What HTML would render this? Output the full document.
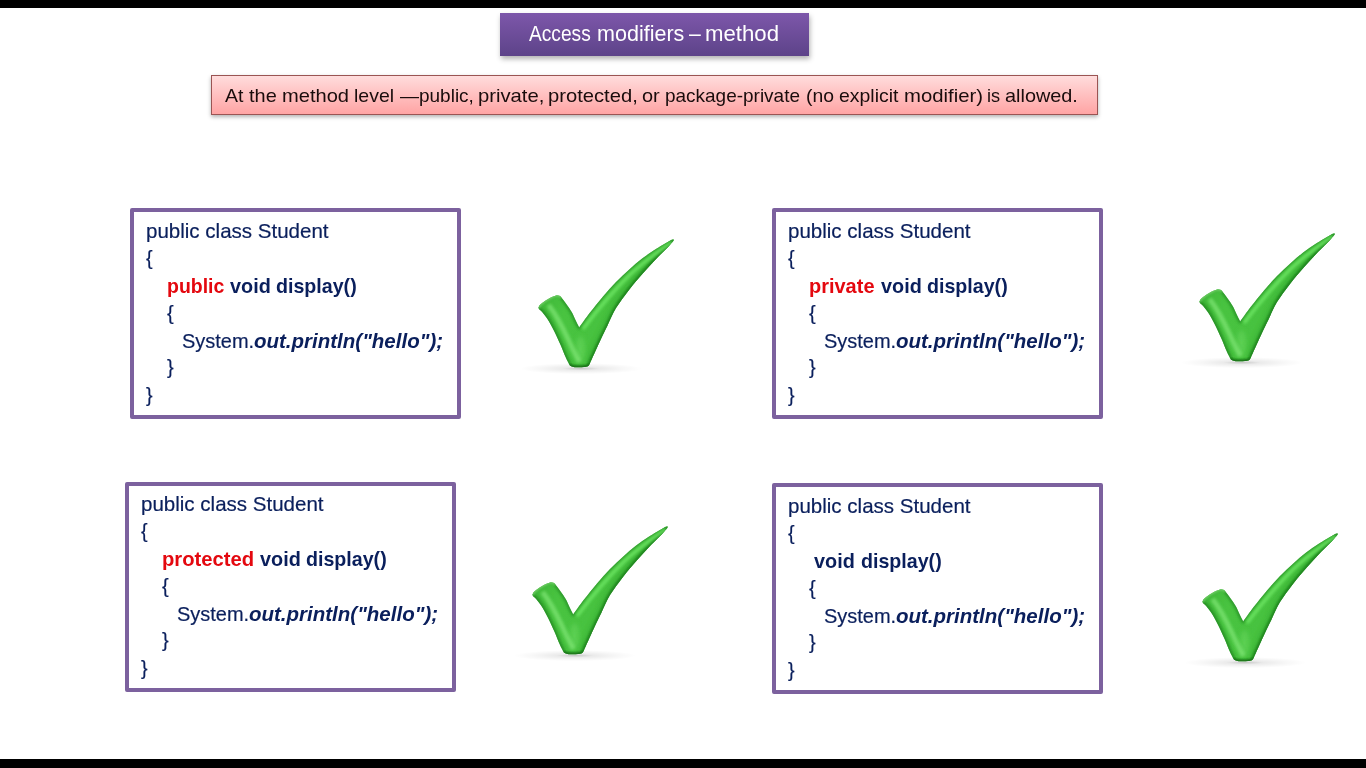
<!DOCTYPE html>
<html lang="en">
<head>
<meta charset="utf-8">
<title>Access modifiers – method</title>
<style>
html,body{margin:0;padding:0;}
body{width:1366px;height:768px;overflow:hidden;background:#fff;position:relative;font-family:"Liberation Sans",sans-serif;}
.bar{position:absolute;left:0;width:1366px;background:#000;}
.bar.top{top:0;height:8px;}
.bar.bot{top:759px;height:9px;}
.title{position:absolute;left:500px;top:13px;width:309px;height:43px;background:linear-gradient(#7d57aa,#5d4389);box-shadow:1px 3px 5px rgba(0,0,0,.3);color:#fff;}
.title span{position:absolute;transform-origin:0 0;top:8px;font-size:21.5px;line-height:26px;white-space:nowrap;}
.note{position:absolute;left:211px;top:75px;width:885px;height:38px;border:1px solid #9a5453;background:linear-gradient(#ffdcdc,#ffa4a4);box-shadow:0 2px 4px rgba(0,0,0,.3);color:#1a0c0c;}
.note span{position:absolute;transform-origin:0 0;top:8px;font-size:19px;line-height:24px;white-space:nowrap;}
.code{position:absolute;width:323px;height:203px;border:4px solid #7c619e;border-radius:2px;background:#fff;color:#0a1f5c;font-size:21px;-webkit-text-stroke:0.2px #0a1f5c;}
.code span{position:absolute;transform-origin:0 0;white-space:nowrap;line-height:24px;height:24px;}
.code .b{font-weight:bold;-webkit-text-stroke:0;}
.code .r{color:#e4080f;}
.code .bi{font-style:italic;font-weight:bold;-webkit-text-stroke:0;}
.chk{position:absolute;}
</style>
</head>
<body>
<div class="bar top"></div>
<div class="bar bot"></div>
<div class="title"><span id="t0" style="left:29.40px;transform:scaleX(0.8914)">Access </span><span id="t1" style="left:96.70px;transform:scaleX(1.0016)">modifiers </span><span id="t2" style="left:189.40px;transform:scaleX(0.9833)">– </span><span id="t3" style="left:205.45px;transform:scaleX(1.0326)">method</span></div>
<div class="note"><span id="n0" style="left:13.40px;transform:scaleX(1.0239)">At </span><span id="n1" style="left:37.19px;transform:scaleX(1.0493)">the </span><span id="n2" style="left:69.83px;transform:scaleX(1.0573)">method </span><span id="n3" style="left:142.27px;transform:scaleX(1.0258)">level </span><span id="n4" style="left:187.80px;transform:scaleX(0.9994)">—public, </span><span id="n5" style="left:265.82px;transform:scaleX(1.0652)">private, </span><span id="n6" style="left:336.13px;transform:scaleX(1.0622)">protected, </span><span id="n7" style="left:430.16px;transform:scaleX(1.0522)">or </span><span id="n8" style="left:452.70px;transform:scaleX(0.9983)">package-private </span><span id="n9" style="left:594.18px;transform:scaleX(1.0198)">(no </span><span id="n10" style="left:626.98px;transform:scaleX(1.0228)">explicit </span><span id="n11" style="left:691.72px;transform:scaleX(1.0688)">modifier) </span><span id="n12" style="left:774.75px;transform:scaleX(0.9563)">is </span><span id="n13" style="left:793.16px;transform:scaleX(1.0456)">allowed.</span></div>
<div class="code" style="left:130px;top:208px;height:203px">
<span id="b0l1" style="left:12.33px;top:7px;transform:scaleX(0.9771)">public class Student</span>
<span id="b0o1" style="left:12.02px;top:34px;transform:scaleX(0.9375)">{</span>
<span id="b0m" class="b r" style="left:33.30px;top:62px;transform:scaleX(0.9266)">public </span>
<span id="b0v" class="b" style="left:95.90px;top:62px;transform:scaleX(0.9440)">void </span>
<span id="b0d" class="b" style="left:142.25px;top:62px;transform:scaleX(0.9343)">display()</span>
<span id="b0o2" style="left:32.91px;top:89px;transform:scaleX(0.9531)">{</span>
<span id="b0s" style="left:48.19px;top:117px;transform:scaleX(0.9513)">System.</span>
<span id="b0p" class="bi" style="left:120.21px;top:117px;transform:scaleX(0.9760)">out.println(&quot;hello&quot;);</span>
<span id="b0c2" style="left:33.21px;top:143px;transform:scaleX(0.9531)">}</span>
<span id="b0c1" style="left:12.22px;top:171px;transform:scaleX(0.9375)">}</span>
</div>
<div class="code" style="left:772px;top:208px;height:203px">
<span id="b1l1" style="left:12.33px;top:7px;transform:scaleX(0.9771)">public class Student</span>
<span id="b1o1" style="left:12.02px;top:34px;transform:scaleX(0.9375)">{</span>
<span id="b1m" class="b r" style="left:33.46px;top:62px;transform:scaleX(0.9509)">private </span>
<span id="b1v" class="b" style="left:104.70px;top:62px;transform:scaleX(0.9440)">void </span>
<span id="b1d" class="b" style="left:151.05px;top:62px;transform:scaleX(0.9343)">display()</span>
<span id="b1o2" style="left:32.91px;top:89px;transform:scaleX(0.9531)">{</span>
<span id="b1s" style="left:48.19px;top:117px;transform:scaleX(0.9513)">System.</span>
<span id="b1p" class="bi" style="left:120.21px;top:117px;transform:scaleX(0.9760)">out.println(&quot;hello&quot;);</span>
<span id="b1c2" style="left:33.21px;top:143px;transform:scaleX(0.9531)">}</span>
<span id="b1c1" style="left:12.22px;top:171px;transform:scaleX(0.9375)">}</span>
</div>
<div class="code" style="left:125px;top:482px;height:202px">
<span id="b2l1" style="left:12.33px;top:6px;transform:scaleX(0.9771)">public class Student</span>
<span id="b2o1" style="left:12.02px;top:33px;transform:scaleX(0.9375)">{</span>
<span id="b2m" class="b r" style="left:33.25px;top:61px;transform:scaleX(0.9629)">protected </span>
<span id="b2v" class="b" style="left:130.50px;top:61px;transform:scaleX(0.9440)">void </span>
<span id="b2d" class="b" style="left:176.85px;top:61px;transform:scaleX(0.9343)">display()</span>
<span id="b2o2" style="left:32.91px;top:88px;transform:scaleX(0.9531)">{</span>
<span id="b2s" style="left:48.19px;top:116px;transform:scaleX(0.9513)">System.</span>
<span id="b2p" class="bi" style="left:120.21px;top:116px;transform:scaleX(0.9760)">out.println(&quot;hello&quot;);</span>
<span id="b2c2" style="left:33.21px;top:142px;transform:scaleX(0.9531)">}</span>
<span id="b2c1" style="left:12.22px;top:170px;transform:scaleX(0.9375)">}</span>
</div>
<div class="code" style="left:772px;top:483px;height:203px">
<span id="b3l1" style="left:12.33px;top:7px;transform:scaleX(0.9771)">public class Student</span>
<span id="b3o1" style="left:12.02px;top:34px;transform:scaleX(0.9375)">{</span>
<span id="b3v" class="b" style="left:38.30px;top:62px;transform:scaleX(0.9440)">void </span>
<span id="b3d" class="b" style="left:84.65px;top:62px;transform:scaleX(0.9343)">display()</span>
<span id="b3o2" style="left:32.91px;top:89px;transform:scaleX(0.9531)">{</span>
<span id="b3s" style="left:48.19px;top:117px;transform:scaleX(0.9513)">System.</span>
<span id="b3p" class="bi" style="left:120.21px;top:117px;transform:scaleX(0.9760)">out.println(&quot;hello&quot;);</span>
<span id="b3c2" style="left:33.21px;top:143px;transform:scaleX(0.9531)">}</span>
<span id="b3c1" style="left:12.22px;top:171px;transform:scaleX(0.9375)">}</span>
</div>
<svg class="chk" style="left:520.0px;top:230.0px" width="170" height="150" viewBox="520 230 170 150">
<defs>
<radialGradient id="sh1" cx="0.5" cy="0.5" r="0.5"><stop offset="0" stop-color="#000" stop-opacity=".22"/><stop offset=".3" stop-color="#000" stop-opacity=".08"/><stop offset=".7" stop-color="#000" stop-opacity=".03"/><stop offset="1" stop-color="#000" stop-opacity="0"/></radialGradient>
<linearGradient id="g1" x1="540" y1="300" x2="640" y2="330" gradientUnits="userSpaceOnUse"><stop offset="0" stop-color="#3fb838"/><stop offset=".25" stop-color="#48c340"/><stop offset=".6" stop-color="#47c23f"/><stop offset="1" stop-color="#41bb3a"/></linearGradient>
<filter id="b1" x="-30%" y="-30%" width="160%" height="160%"><feGaussianBlur stdDeviation="1.5"/></filter>
<filter id="d1" x="-30%" y="-30%" width="160%" height="160%"><feGaussianBlur stdDeviation="0.8"/></filter>
<filter id="e1" x="-30%" y="-30%" width="160%" height="160%"><feGaussianBlur stdDeviation="2.4"/></filter>
<filter id="c1" x="-10%" y="-10%" width="120%" height="120%"><feGaussianBlur stdDeviation="0.45"/></filter>
<clipPath id="k1"><path d="M538.4 307.8 C538.7 307.3 539.1 305.8 540.0 304.8 C540.9 303.8 542.0 303.0 543.6 301.9 C545.2 300.8 547.7 299.0 549.8 297.9 C551.9 296.8 554.4 295.8 556.0 295.4 C557.6 295.0 558.5 295.4 559.4 295.7 C560.3 296.0 561.1 297.1 561.4 297.4 C562.3 298.6 564.9 301.9 566.6 304.4 C568.3 306.9 570.3 309.6 571.8 312.3 C573.3 315.0 574.5 318.1 575.7 320.6 C576.9 323.1 578.6 326.4 579.2 327.5 C581.0 325.0 586.0 317.8 590.0 312.6 C594.0 307.4 598.7 301.5 603.0 296.4 C607.3 291.3 611.7 286.6 616.0 282.1 C620.3 277.7 624.6 273.6 629.0 269.7 C633.4 265.8 637.8 262.0 642.1 258.6 C646.5 255.2 650.8 252.3 655.1 249.5 C659.4 246.7 665.2 243.4 668.1 241.7 C671.0 240.0 671.7 239.9 672.4 239.5 C672.6 239.5 673.8 239.3 673.9 239.6 C674.0 239.9 673.4 240.8 673.3 241.1 C672.4 242.1 671.1 243.8 668.1 246.9 C665.1 250.0 659.4 255.3 655.1 259.9 C650.8 264.4 646.5 269.2 642.1 274.2 C637.8 279.2 633.4 284.2 629.0 289.9 C624.6 295.5 619.6 302.2 616.0 308.1 C612.4 314.0 610.0 320.4 607.5 325.5 C605.0 330.6 603.3 334.1 601.2 338.5 C599.1 342.9 597.0 347.6 595.0 352.0 C593.0 356.4 590.3 362.5 589.4 364.6 C589.2 364.9 588.9 365.9 588.0 366.3 C587.1 366.7 585.5 366.9 584.0 367.1 C582.5 367.3 580.8 367.3 579.0 367.3 C577.2 367.3 574.9 367.2 573.5 367.0 C572.1 366.8 571.3 366.4 570.6 366.0 C569.9 365.6 569.5 364.7 569.3 364.4 C568.7 363.2 567.1 360.4 565.6 357.0 C564.1 353.6 562.2 348.7 560.3 344.3 C558.4 339.9 556.1 334.9 554.0 330.7 C551.9 326.5 549.8 322.5 547.8 319.4 C545.8 316.3 543.6 313.7 542.2 312.0 C540.8 310.3 539.8 310.0 539.2 309.3 C538.6 308.6 538.5 308.1 538.4 307.8 Z"/></clipPath>
</defs>
<ellipse cx="581" cy="368.6" rx="61" ry="5.6" fill="url(#sh1)"/>
<g filter="url(#c1)">
<path d="M538.4 307.8 C538.7 307.3 539.1 305.8 540.0 304.8 C540.9 303.8 542.0 303.0 543.6 301.9 C545.2 300.8 547.7 299.0 549.8 297.9 C551.9 296.8 554.4 295.8 556.0 295.4 C557.6 295.0 558.5 295.4 559.4 295.7 C560.3 296.0 561.1 297.1 561.4 297.4 C562.3 298.6 564.9 301.9 566.6 304.4 C568.3 306.9 570.3 309.6 571.8 312.3 C573.3 315.0 574.5 318.1 575.7 320.6 C576.9 323.1 578.6 326.4 579.2 327.5 C581.0 325.0 586.0 317.8 590.0 312.6 C594.0 307.4 598.7 301.5 603.0 296.4 C607.3 291.3 611.7 286.6 616.0 282.1 C620.3 277.7 624.6 273.6 629.0 269.7 C633.4 265.8 637.8 262.0 642.1 258.6 C646.5 255.2 650.8 252.3 655.1 249.5 C659.4 246.7 665.2 243.4 668.1 241.7 C671.0 240.0 671.7 239.9 672.4 239.5 C672.6 239.5 673.8 239.3 673.9 239.6 C674.0 239.9 673.4 240.8 673.3 241.1 C672.4 242.1 671.1 243.8 668.1 246.9 C665.1 250.0 659.4 255.3 655.1 259.9 C650.8 264.4 646.5 269.2 642.1 274.2 C637.8 279.2 633.4 284.2 629.0 289.9 C624.6 295.5 619.6 302.2 616.0 308.1 C612.4 314.0 610.0 320.4 607.5 325.5 C605.0 330.6 603.3 334.1 601.2 338.5 C599.1 342.9 597.0 347.6 595.0 352.0 C593.0 356.4 590.3 362.5 589.4 364.6 C589.2 364.9 588.9 365.9 588.0 366.3 C587.1 366.7 585.5 366.9 584.0 367.1 C582.5 367.3 580.8 367.3 579.0 367.3 C577.2 367.3 574.9 367.2 573.5 367.0 C572.1 366.8 571.3 366.4 570.6 366.0 C569.9 365.6 569.5 364.7 569.3 364.4 C568.7 363.2 567.1 360.4 565.6 357.0 C564.1 353.6 562.2 348.7 560.3 344.3 C558.4 339.9 556.1 334.9 554.0 330.7 C551.9 326.5 549.8 322.5 547.8 319.4 C545.8 316.3 543.6 313.7 542.2 312.0 C540.8 310.3 539.8 310.0 539.2 309.3 C538.6 308.6 538.5 308.1 538.4 307.8 Z" fill="url(#g1)"/>
<g clip-path="url(#k1)">
<path d="M538.4 307.8 C538.7 307.3 539.1 305.8 540.0 304.8 C540.9 303.8 542.0 303.0 543.6 301.9 C545.2 300.8 547.7 299.0 549.8 297.9 C551.9 296.8 554.4 295.8 556.0 295.4 C557.6 295.0 558.5 295.4 559.4 295.7 C560.3 296.0 561.1 297.1 561.4 297.4 C562.3 298.6 564.9 301.9 566.6 304.4 C568.3 306.9 570.3 309.6 571.8 312.3 C573.3 315.0 574.5 318.1 575.7 320.6 C576.9 323.1 578.6 326.4 579.2 327.5 C581.0 325.0 586.0 317.8 590.0 312.6 C594.0 307.4 598.7 301.5 603.0 296.4 C607.3 291.3 611.7 286.6 616.0 282.1 C620.3 277.7 624.6 273.6 629.0 269.7 C633.4 265.8 637.8 262.0 642.1 258.6 C646.5 255.2 650.8 252.3 655.1 249.5 C659.4 246.7 665.2 243.4 668.1 241.7 C671.0 240.0 671.7 239.9 672.4 239.5 C672.6 239.5 673.8 239.3 673.9 239.6 C674.0 239.9 673.4 240.8 673.3 241.1 C672.4 242.1 671.1 243.8 668.1 246.9 C665.1 250.0 659.4 255.3 655.1 259.9 C650.8 264.4 646.5 269.2 642.1 274.2 C637.8 279.2 633.4 284.2 629.0 289.9 C624.6 295.5 619.6 302.2 616.0 308.1 C612.4 314.0 610.0 320.4 607.5 325.5 C605.0 330.6 603.3 334.1 601.2 338.5 C599.1 342.9 597.0 347.6 595.0 352.0 C593.0 356.4 590.3 362.5 589.4 364.6 C589.2 364.9 588.9 365.9 588.0 366.3 C587.1 366.7 585.5 366.9 584.0 367.1 C582.5 367.3 580.8 367.3 579.0 367.3 C577.2 367.3 574.9 367.2 573.5 367.0 C572.1 366.8 571.3 366.4 570.6 366.0 C569.9 365.6 569.5 364.7 569.3 364.4 C568.7 363.2 567.1 360.4 565.6 357.0 C564.1 353.6 562.2 348.7 560.3 344.3 C558.4 339.9 556.1 334.9 554.0 330.7 C551.9 326.5 549.8 322.5 547.8 319.4 C545.8 316.3 543.6 313.7 542.2 312.0 C540.8 310.3 539.8 310.0 539.2 309.3 C538.6 308.6 538.5 308.1 538.4 307.8 Z" fill="none" stroke="#1f7d1f" stroke-width="2.6" opacity=".6" filter="url(#d1)"/>
<path d="M673.3 241.1 C672.4 242.1 671.1 243.8 668.1 246.9 C665.1 250.0 659.4 255.3 655.1 259.9 C650.8 264.4 646.5 269.2 642.1 274.2 C637.8 279.2 633.4 284.2 629.0 289.9 C624.6 295.5 619.6 302.2 616.0 308.1 C612.4 314.0 610.0 320.4 607.5 325.5 C605.0 330.6 603.3 334.1 601.2 338.5 C599.1 342.9 597.0 347.6 595.0 352.0 C593.0 356.4 590.3 362.5 589.4 364.6" fill="none" stroke="#1c7a1c" stroke-width="3.4" opacity=".8" filter="url(#d1)"/>
<path d="M673.3 241.1 C672.4 242.1 671.1 243.8 668.1 246.9 C665.1 250.0 659.4 255.3 655.1 259.9 C650.8 264.4 646.5 269.2 642.1 274.2 C637.8 279.2 633.4 284.2 629.0 289.9 C624.6 295.5 619.6 302.2 616.0 308.1 C612.4 314.0 610.0 320.4 607.5 325.5 C605.0 330.6 603.3 334.1 601.2 338.5 C599.1 342.9 597.0 347.6 595.0 352.0 C593.0 356.4 590.3 362.5 589.4 364.6" fill="none" stroke="#248f22" stroke-width="8" opacity=".3" filter="url(#e1)"/>
<path d="M589.4 364.6 C589.2 364.9 588.9 365.9 588.0 366.3 C587.1 366.7 585.5 366.9 584.0 367.1 C582.5 367.3 580.8 367.3 579.0 367.3 C577.2 367.3 574.9 367.2 573.5 367.0 C572.1 366.8 571.3 366.4 570.6 366.0 C569.9 365.6 569.5 364.7 569.3 364.4" fill="none" stroke="#176a17" stroke-width="3.6" opacity=".9" filter="url(#d1)"/>
<path d="M569.3 364.4 C568.7 363.2 567.1 360.4 565.6 357.0 C564.1 353.6 562.2 348.7 560.3 344.3 C558.4 339.9 556.1 334.9 554.0 330.7 C551.9 326.5 549.8 322.5 547.8 319.4 C545.8 316.3 543.6 313.7 542.2 312.0 C540.8 310.3 539.8 310.0 539.2 309.3 C538.6 308.6 538.5 308.1 538.4 307.8" fill="none" stroke="#228a20" stroke-width="5" opacity=".55" filter="url(#b1)"/>
<path d="M561.4 297.4 C562.3 298.6 564.9 301.9 566.6 304.4 C568.3 306.9 570.3 309.6 571.8 312.3 C573.3 315.0 574.5 318.1 575.7 320.6 C576.9 323.1 578.6 326.4 579.2 327.5" fill="none" stroke="#2a962a" stroke-width="4" opacity=".45" filter="url(#b1)"/>
<ellipse cx="580.5" cy="349" rx="4.5" ry="13" fill="#63d45a" opacity=".75" filter="url(#e1)"/>
<path d="M548.5 305 C555 313 562 326 568.5 340 C572.5 349 576 356 579.5 362" fill="none" stroke="#7fe574" stroke-width="5" opacity=".75" filter="url(#b1)"/>
<path d="M583 329 C595 313 611 293 631 273.5 C646 260 660 250 672 242" fill="none" stroke="#6fe866" stroke-width="3.6" opacity=".85" filter="url(#b1)"/>
<path d="M538.4 307.8 C538.7 307.3 539.1 305.8 540.0 304.8 C540.9 303.8 542.0 303.0 543.6 301.9 C545.2 300.8 547.7 299.0 549.8 297.9 C551.9 296.8 554.4 295.8 556.0 295.4 C557.6 295.0 558.5 295.4 559.4 295.7 C560.3 296.0 561.1 297.1 561.4 297.4" fill="none" stroke="#8fea82" stroke-width="3" opacity=".7" filter="url(#d1)"/>
</g>
</g>
</svg>
<svg class="chk" style="left:1181.2px;top:224.4px" width="170" height="150" viewBox="520 230 170 150">
<defs>
<radialGradient id="sh2" cx="0.5" cy="0.5" r="0.5"><stop offset="0" stop-color="#000" stop-opacity=".22"/><stop offset=".3" stop-color="#000" stop-opacity=".08"/><stop offset=".7" stop-color="#000" stop-opacity=".03"/><stop offset="1" stop-color="#000" stop-opacity="0"/></radialGradient>
<linearGradient id="g2" x1="540" y1="300" x2="640" y2="330" gradientUnits="userSpaceOnUse"><stop offset="0" stop-color="#3fb838"/><stop offset=".25" stop-color="#48c340"/><stop offset=".6" stop-color="#47c23f"/><stop offset="1" stop-color="#41bb3a"/></linearGradient>
<filter id="b2" x="-30%" y="-30%" width="160%" height="160%"><feGaussianBlur stdDeviation="1.5"/></filter>
<filter id="d2" x="-30%" y="-30%" width="160%" height="160%"><feGaussianBlur stdDeviation="0.8"/></filter>
<filter id="e2" x="-30%" y="-30%" width="160%" height="160%"><feGaussianBlur stdDeviation="2.4"/></filter>
<filter id="c2" x="-10%" y="-10%" width="120%" height="120%"><feGaussianBlur stdDeviation="0.45"/></filter>
<clipPath id="k2"><path d="M538.4 307.8 C538.7 307.3 539.1 305.8 540.0 304.8 C540.9 303.8 542.0 303.0 543.6 301.9 C545.2 300.8 547.7 299.0 549.8 297.9 C551.9 296.8 554.4 295.8 556.0 295.4 C557.6 295.0 558.5 295.4 559.4 295.7 C560.3 296.0 561.1 297.1 561.4 297.4 C562.3 298.6 564.9 301.9 566.6 304.4 C568.3 306.9 570.3 309.6 571.8 312.3 C573.3 315.0 574.5 318.1 575.7 320.6 C576.9 323.1 578.6 326.4 579.2 327.5 C581.0 325.0 586.0 317.8 590.0 312.6 C594.0 307.4 598.7 301.5 603.0 296.4 C607.3 291.3 611.7 286.6 616.0 282.1 C620.3 277.7 624.6 273.6 629.0 269.7 C633.4 265.8 637.8 262.0 642.1 258.6 C646.5 255.2 650.8 252.3 655.1 249.5 C659.4 246.7 665.2 243.4 668.1 241.7 C671.0 240.0 671.7 239.9 672.4 239.5 C672.6 239.5 673.8 239.3 673.9 239.6 C674.0 239.9 673.4 240.8 673.3 241.1 C672.4 242.1 671.1 243.8 668.1 246.9 C665.1 250.0 659.4 255.3 655.1 259.9 C650.8 264.4 646.5 269.2 642.1 274.2 C637.8 279.2 633.4 284.2 629.0 289.9 C624.6 295.5 619.6 302.2 616.0 308.1 C612.4 314.0 610.0 320.4 607.5 325.5 C605.0 330.6 603.3 334.1 601.2 338.5 C599.1 342.9 597.0 347.6 595.0 352.0 C593.0 356.4 590.3 362.5 589.4 364.6 C589.2 364.9 588.9 365.9 588.0 366.3 C587.1 366.7 585.5 366.9 584.0 367.1 C582.5 367.3 580.8 367.3 579.0 367.3 C577.2 367.3 574.9 367.2 573.5 367.0 C572.1 366.8 571.3 366.4 570.6 366.0 C569.9 365.6 569.5 364.7 569.3 364.4 C568.7 363.2 567.1 360.4 565.6 357.0 C564.1 353.6 562.2 348.7 560.3 344.3 C558.4 339.9 556.1 334.9 554.0 330.7 C551.9 326.5 549.8 322.5 547.8 319.4 C545.8 316.3 543.6 313.7 542.2 312.0 C540.8 310.3 539.8 310.0 539.2 309.3 C538.6 308.6 538.5 308.1 538.4 307.8 Z"/></clipPath>
</defs>
<ellipse cx="581" cy="368.6" rx="61" ry="5.6" fill="url(#sh2)"/>
<g filter="url(#c2)">
<path d="M538.4 307.8 C538.7 307.3 539.1 305.8 540.0 304.8 C540.9 303.8 542.0 303.0 543.6 301.9 C545.2 300.8 547.7 299.0 549.8 297.9 C551.9 296.8 554.4 295.8 556.0 295.4 C557.6 295.0 558.5 295.4 559.4 295.7 C560.3 296.0 561.1 297.1 561.4 297.4 C562.3 298.6 564.9 301.9 566.6 304.4 C568.3 306.9 570.3 309.6 571.8 312.3 C573.3 315.0 574.5 318.1 575.7 320.6 C576.9 323.1 578.6 326.4 579.2 327.5 C581.0 325.0 586.0 317.8 590.0 312.6 C594.0 307.4 598.7 301.5 603.0 296.4 C607.3 291.3 611.7 286.6 616.0 282.1 C620.3 277.7 624.6 273.6 629.0 269.7 C633.4 265.8 637.8 262.0 642.1 258.6 C646.5 255.2 650.8 252.3 655.1 249.5 C659.4 246.7 665.2 243.4 668.1 241.7 C671.0 240.0 671.7 239.9 672.4 239.5 C672.6 239.5 673.8 239.3 673.9 239.6 C674.0 239.9 673.4 240.8 673.3 241.1 C672.4 242.1 671.1 243.8 668.1 246.9 C665.1 250.0 659.4 255.3 655.1 259.9 C650.8 264.4 646.5 269.2 642.1 274.2 C637.8 279.2 633.4 284.2 629.0 289.9 C624.6 295.5 619.6 302.2 616.0 308.1 C612.4 314.0 610.0 320.4 607.5 325.5 C605.0 330.6 603.3 334.1 601.2 338.5 C599.1 342.9 597.0 347.6 595.0 352.0 C593.0 356.4 590.3 362.5 589.4 364.6 C589.2 364.9 588.9 365.9 588.0 366.3 C587.1 366.7 585.5 366.9 584.0 367.1 C582.5 367.3 580.8 367.3 579.0 367.3 C577.2 367.3 574.9 367.2 573.5 367.0 C572.1 366.8 571.3 366.4 570.6 366.0 C569.9 365.6 569.5 364.7 569.3 364.4 C568.7 363.2 567.1 360.4 565.6 357.0 C564.1 353.6 562.2 348.7 560.3 344.3 C558.4 339.9 556.1 334.9 554.0 330.7 C551.9 326.5 549.8 322.5 547.8 319.4 C545.8 316.3 543.6 313.7 542.2 312.0 C540.8 310.3 539.8 310.0 539.2 309.3 C538.6 308.6 538.5 308.1 538.4 307.8 Z" fill="url(#g2)"/>
<g clip-path="url(#k2)">
<path d="M538.4 307.8 C538.7 307.3 539.1 305.8 540.0 304.8 C540.9 303.8 542.0 303.0 543.6 301.9 C545.2 300.8 547.7 299.0 549.8 297.9 C551.9 296.8 554.4 295.8 556.0 295.4 C557.6 295.0 558.5 295.4 559.4 295.7 C560.3 296.0 561.1 297.1 561.4 297.4 C562.3 298.6 564.9 301.9 566.6 304.4 C568.3 306.9 570.3 309.6 571.8 312.3 C573.3 315.0 574.5 318.1 575.7 320.6 C576.9 323.1 578.6 326.4 579.2 327.5 C581.0 325.0 586.0 317.8 590.0 312.6 C594.0 307.4 598.7 301.5 603.0 296.4 C607.3 291.3 611.7 286.6 616.0 282.1 C620.3 277.7 624.6 273.6 629.0 269.7 C633.4 265.8 637.8 262.0 642.1 258.6 C646.5 255.2 650.8 252.3 655.1 249.5 C659.4 246.7 665.2 243.4 668.1 241.7 C671.0 240.0 671.7 239.9 672.4 239.5 C672.6 239.5 673.8 239.3 673.9 239.6 C674.0 239.9 673.4 240.8 673.3 241.1 C672.4 242.1 671.1 243.8 668.1 246.9 C665.1 250.0 659.4 255.3 655.1 259.9 C650.8 264.4 646.5 269.2 642.1 274.2 C637.8 279.2 633.4 284.2 629.0 289.9 C624.6 295.5 619.6 302.2 616.0 308.1 C612.4 314.0 610.0 320.4 607.5 325.5 C605.0 330.6 603.3 334.1 601.2 338.5 C599.1 342.9 597.0 347.6 595.0 352.0 C593.0 356.4 590.3 362.5 589.4 364.6 C589.2 364.9 588.9 365.9 588.0 366.3 C587.1 366.7 585.5 366.9 584.0 367.1 C582.5 367.3 580.8 367.3 579.0 367.3 C577.2 367.3 574.9 367.2 573.5 367.0 C572.1 366.8 571.3 366.4 570.6 366.0 C569.9 365.6 569.5 364.7 569.3 364.4 C568.7 363.2 567.1 360.4 565.6 357.0 C564.1 353.6 562.2 348.7 560.3 344.3 C558.4 339.9 556.1 334.9 554.0 330.7 C551.9 326.5 549.8 322.5 547.8 319.4 C545.8 316.3 543.6 313.7 542.2 312.0 C540.8 310.3 539.8 310.0 539.2 309.3 C538.6 308.6 538.5 308.1 538.4 307.8 Z" fill="none" stroke="#1f7d1f" stroke-width="2.6" opacity=".6" filter="url(#d2)"/>
<path d="M673.3 241.1 C672.4 242.1 671.1 243.8 668.1 246.9 C665.1 250.0 659.4 255.3 655.1 259.9 C650.8 264.4 646.5 269.2 642.1 274.2 C637.8 279.2 633.4 284.2 629.0 289.9 C624.6 295.5 619.6 302.2 616.0 308.1 C612.4 314.0 610.0 320.4 607.5 325.5 C605.0 330.6 603.3 334.1 601.2 338.5 C599.1 342.9 597.0 347.6 595.0 352.0 C593.0 356.4 590.3 362.5 589.4 364.6" fill="none" stroke="#1c7a1c" stroke-width="3.4" opacity=".8" filter="url(#d2)"/>
<path d="M673.3 241.1 C672.4 242.1 671.1 243.8 668.1 246.9 C665.1 250.0 659.4 255.3 655.1 259.9 C650.8 264.4 646.5 269.2 642.1 274.2 C637.8 279.2 633.4 284.2 629.0 289.9 C624.6 295.5 619.6 302.2 616.0 308.1 C612.4 314.0 610.0 320.4 607.5 325.5 C605.0 330.6 603.3 334.1 601.2 338.5 C599.1 342.9 597.0 347.6 595.0 352.0 C593.0 356.4 590.3 362.5 589.4 364.6" fill="none" stroke="#248f22" stroke-width="8" opacity=".3" filter="url(#e2)"/>
<path d="M589.4 364.6 C589.2 364.9 588.9 365.9 588.0 366.3 C587.1 366.7 585.5 366.9 584.0 367.1 C582.5 367.3 580.8 367.3 579.0 367.3 C577.2 367.3 574.9 367.2 573.5 367.0 C572.1 366.8 571.3 366.4 570.6 366.0 C569.9 365.6 569.5 364.7 569.3 364.4" fill="none" stroke="#176a17" stroke-width="3.6" opacity=".9" filter="url(#d2)"/>
<path d="M569.3 364.4 C568.7 363.2 567.1 360.4 565.6 357.0 C564.1 353.6 562.2 348.7 560.3 344.3 C558.4 339.9 556.1 334.9 554.0 330.7 C551.9 326.5 549.8 322.5 547.8 319.4 C545.8 316.3 543.6 313.7 542.2 312.0 C540.8 310.3 539.8 310.0 539.2 309.3 C538.6 308.6 538.5 308.1 538.4 307.8" fill="none" stroke="#228a20" stroke-width="5" opacity=".55" filter="url(#b2)"/>
<path d="M561.4 297.4 C562.3 298.6 564.9 301.9 566.6 304.4 C568.3 306.9 570.3 309.6 571.8 312.3 C573.3 315.0 574.5 318.1 575.7 320.6 C576.9 323.1 578.6 326.4 579.2 327.5" fill="none" stroke="#2a962a" stroke-width="4" opacity=".45" filter="url(#b2)"/>
<ellipse cx="580.5" cy="349" rx="4.5" ry="13" fill="#63d45a" opacity=".75" filter="url(#e2)"/>
<path d="M548.5 305 C555 313 562 326 568.5 340 C572.5 349 576 356 579.5 362" fill="none" stroke="#7fe574" stroke-width="5" opacity=".75" filter="url(#b2)"/>
<path d="M583 329 C595 313 611 293 631 273.5 C646 260 660 250 672 242" fill="none" stroke="#6fe866" stroke-width="3.6" opacity=".85" filter="url(#b2)"/>
<path d="M538.4 307.8 C538.7 307.3 539.1 305.8 540.0 304.8 C540.9 303.8 542.0 303.0 543.6 301.9 C545.2 300.8 547.7 299.0 549.8 297.9 C551.9 296.8 554.4 295.8 556.0 295.4 C557.6 295.0 558.5 295.4 559.4 295.7 C560.3 296.0 561.1 297.1 561.4 297.4" fill="none" stroke="#8fea82" stroke-width="3" opacity=".7" filter="url(#d2)"/>
</g>
</g>
</svg>
<svg class="chk" style="left:514.3px;top:516.5px" width="170" height="150" viewBox="520 230 170 150">
<defs>
<radialGradient id="sh3" cx="0.5" cy="0.5" r="0.5"><stop offset="0" stop-color="#000" stop-opacity=".22"/><stop offset=".3" stop-color="#000" stop-opacity=".08"/><stop offset=".7" stop-color="#000" stop-opacity=".03"/><stop offset="1" stop-color="#000" stop-opacity="0"/></radialGradient>
<linearGradient id="g3" x1="540" y1="300" x2="640" y2="330" gradientUnits="userSpaceOnUse"><stop offset="0" stop-color="#3fb838"/><stop offset=".25" stop-color="#48c340"/><stop offset=".6" stop-color="#47c23f"/><stop offset="1" stop-color="#41bb3a"/></linearGradient>
<filter id="b3" x="-30%" y="-30%" width="160%" height="160%"><feGaussianBlur stdDeviation="1.5"/></filter>
<filter id="d3" x="-30%" y="-30%" width="160%" height="160%"><feGaussianBlur stdDeviation="0.8"/></filter>
<filter id="e3" x="-30%" y="-30%" width="160%" height="160%"><feGaussianBlur stdDeviation="2.4"/></filter>
<filter id="c3" x="-10%" y="-10%" width="120%" height="120%"><feGaussianBlur stdDeviation="0.45"/></filter>
<clipPath id="k3"><path d="M538.4 307.8 C538.7 307.3 539.1 305.8 540.0 304.8 C540.9 303.8 542.0 303.0 543.6 301.9 C545.2 300.8 547.7 299.0 549.8 297.9 C551.9 296.8 554.4 295.8 556.0 295.4 C557.6 295.0 558.5 295.4 559.4 295.7 C560.3 296.0 561.1 297.1 561.4 297.4 C562.3 298.6 564.9 301.9 566.6 304.4 C568.3 306.9 570.3 309.6 571.8 312.3 C573.3 315.0 574.5 318.1 575.7 320.6 C576.9 323.1 578.6 326.4 579.2 327.5 C581.0 325.0 586.0 317.8 590.0 312.6 C594.0 307.4 598.7 301.5 603.0 296.4 C607.3 291.3 611.7 286.6 616.0 282.1 C620.3 277.7 624.6 273.6 629.0 269.7 C633.4 265.8 637.8 262.0 642.1 258.6 C646.5 255.2 650.8 252.3 655.1 249.5 C659.4 246.7 665.2 243.4 668.1 241.7 C671.0 240.0 671.7 239.9 672.4 239.5 C672.6 239.5 673.8 239.3 673.9 239.6 C674.0 239.9 673.4 240.8 673.3 241.1 C672.4 242.1 671.1 243.8 668.1 246.9 C665.1 250.0 659.4 255.3 655.1 259.9 C650.8 264.4 646.5 269.2 642.1 274.2 C637.8 279.2 633.4 284.2 629.0 289.9 C624.6 295.5 619.6 302.2 616.0 308.1 C612.4 314.0 610.0 320.4 607.5 325.5 C605.0 330.6 603.3 334.1 601.2 338.5 C599.1 342.9 597.0 347.6 595.0 352.0 C593.0 356.4 590.3 362.5 589.4 364.6 C589.2 364.9 588.9 365.9 588.0 366.3 C587.1 366.7 585.5 366.9 584.0 367.1 C582.5 367.3 580.8 367.3 579.0 367.3 C577.2 367.3 574.9 367.2 573.5 367.0 C572.1 366.8 571.3 366.4 570.6 366.0 C569.9 365.6 569.5 364.7 569.3 364.4 C568.7 363.2 567.1 360.4 565.6 357.0 C564.1 353.6 562.2 348.7 560.3 344.3 C558.4 339.9 556.1 334.9 554.0 330.7 C551.9 326.5 549.8 322.5 547.8 319.4 C545.8 316.3 543.6 313.7 542.2 312.0 C540.8 310.3 539.8 310.0 539.2 309.3 C538.6 308.6 538.5 308.1 538.4 307.8 Z"/></clipPath>
</defs>
<ellipse cx="581" cy="368.6" rx="61" ry="5.6" fill="url(#sh3)"/>
<g filter="url(#c3)">
<path d="M538.4 307.8 C538.7 307.3 539.1 305.8 540.0 304.8 C540.9 303.8 542.0 303.0 543.6 301.9 C545.2 300.8 547.7 299.0 549.8 297.9 C551.9 296.8 554.4 295.8 556.0 295.4 C557.6 295.0 558.5 295.4 559.4 295.7 C560.3 296.0 561.1 297.1 561.4 297.4 C562.3 298.6 564.9 301.9 566.6 304.4 C568.3 306.9 570.3 309.6 571.8 312.3 C573.3 315.0 574.5 318.1 575.7 320.6 C576.9 323.1 578.6 326.4 579.2 327.5 C581.0 325.0 586.0 317.8 590.0 312.6 C594.0 307.4 598.7 301.5 603.0 296.4 C607.3 291.3 611.7 286.6 616.0 282.1 C620.3 277.7 624.6 273.6 629.0 269.7 C633.4 265.8 637.8 262.0 642.1 258.6 C646.5 255.2 650.8 252.3 655.1 249.5 C659.4 246.7 665.2 243.4 668.1 241.7 C671.0 240.0 671.7 239.9 672.4 239.5 C672.6 239.5 673.8 239.3 673.9 239.6 C674.0 239.9 673.4 240.8 673.3 241.1 C672.4 242.1 671.1 243.8 668.1 246.9 C665.1 250.0 659.4 255.3 655.1 259.9 C650.8 264.4 646.5 269.2 642.1 274.2 C637.8 279.2 633.4 284.2 629.0 289.9 C624.6 295.5 619.6 302.2 616.0 308.1 C612.4 314.0 610.0 320.4 607.5 325.5 C605.0 330.6 603.3 334.1 601.2 338.5 C599.1 342.9 597.0 347.6 595.0 352.0 C593.0 356.4 590.3 362.5 589.4 364.6 C589.2 364.9 588.9 365.9 588.0 366.3 C587.1 366.7 585.5 366.9 584.0 367.1 C582.5 367.3 580.8 367.3 579.0 367.3 C577.2 367.3 574.9 367.2 573.5 367.0 C572.1 366.8 571.3 366.4 570.6 366.0 C569.9 365.6 569.5 364.7 569.3 364.4 C568.7 363.2 567.1 360.4 565.6 357.0 C564.1 353.6 562.2 348.7 560.3 344.3 C558.4 339.9 556.1 334.9 554.0 330.7 C551.9 326.5 549.8 322.5 547.8 319.4 C545.8 316.3 543.6 313.7 542.2 312.0 C540.8 310.3 539.8 310.0 539.2 309.3 C538.6 308.6 538.5 308.1 538.4 307.8 Z" fill="url(#g3)"/>
<g clip-path="url(#k3)">
<path d="M538.4 307.8 C538.7 307.3 539.1 305.8 540.0 304.8 C540.9 303.8 542.0 303.0 543.6 301.9 C545.2 300.8 547.7 299.0 549.8 297.9 C551.9 296.8 554.4 295.8 556.0 295.4 C557.6 295.0 558.5 295.4 559.4 295.7 C560.3 296.0 561.1 297.1 561.4 297.4 C562.3 298.6 564.9 301.9 566.6 304.4 C568.3 306.9 570.3 309.6 571.8 312.3 C573.3 315.0 574.5 318.1 575.7 320.6 C576.9 323.1 578.6 326.4 579.2 327.5 C581.0 325.0 586.0 317.8 590.0 312.6 C594.0 307.4 598.7 301.5 603.0 296.4 C607.3 291.3 611.7 286.6 616.0 282.1 C620.3 277.7 624.6 273.6 629.0 269.7 C633.4 265.8 637.8 262.0 642.1 258.6 C646.5 255.2 650.8 252.3 655.1 249.5 C659.4 246.7 665.2 243.4 668.1 241.7 C671.0 240.0 671.7 239.9 672.4 239.5 C672.6 239.5 673.8 239.3 673.9 239.6 C674.0 239.9 673.4 240.8 673.3 241.1 C672.4 242.1 671.1 243.8 668.1 246.9 C665.1 250.0 659.4 255.3 655.1 259.9 C650.8 264.4 646.5 269.2 642.1 274.2 C637.8 279.2 633.4 284.2 629.0 289.9 C624.6 295.5 619.6 302.2 616.0 308.1 C612.4 314.0 610.0 320.4 607.5 325.5 C605.0 330.6 603.3 334.1 601.2 338.5 C599.1 342.9 597.0 347.6 595.0 352.0 C593.0 356.4 590.3 362.5 589.4 364.6 C589.2 364.9 588.9 365.9 588.0 366.3 C587.1 366.7 585.5 366.9 584.0 367.1 C582.5 367.3 580.8 367.3 579.0 367.3 C577.2 367.3 574.9 367.2 573.5 367.0 C572.1 366.8 571.3 366.4 570.6 366.0 C569.9 365.6 569.5 364.7 569.3 364.4 C568.7 363.2 567.1 360.4 565.6 357.0 C564.1 353.6 562.2 348.7 560.3 344.3 C558.4 339.9 556.1 334.9 554.0 330.7 C551.9 326.5 549.8 322.5 547.8 319.4 C545.8 316.3 543.6 313.7 542.2 312.0 C540.8 310.3 539.8 310.0 539.2 309.3 C538.6 308.6 538.5 308.1 538.4 307.8 Z" fill="none" stroke="#1f7d1f" stroke-width="2.6" opacity=".6" filter="url(#d3)"/>
<path d="M673.3 241.1 C672.4 242.1 671.1 243.8 668.1 246.9 C665.1 250.0 659.4 255.3 655.1 259.9 C650.8 264.4 646.5 269.2 642.1 274.2 C637.8 279.2 633.4 284.2 629.0 289.9 C624.6 295.5 619.6 302.2 616.0 308.1 C612.4 314.0 610.0 320.4 607.5 325.5 C605.0 330.6 603.3 334.1 601.2 338.5 C599.1 342.9 597.0 347.6 595.0 352.0 C593.0 356.4 590.3 362.5 589.4 364.6" fill="none" stroke="#1c7a1c" stroke-width="3.4" opacity=".8" filter="url(#d3)"/>
<path d="M673.3 241.1 C672.4 242.1 671.1 243.8 668.1 246.9 C665.1 250.0 659.4 255.3 655.1 259.9 C650.8 264.4 646.5 269.2 642.1 274.2 C637.8 279.2 633.4 284.2 629.0 289.9 C624.6 295.5 619.6 302.2 616.0 308.1 C612.4 314.0 610.0 320.4 607.5 325.5 C605.0 330.6 603.3 334.1 601.2 338.5 C599.1 342.9 597.0 347.6 595.0 352.0 C593.0 356.4 590.3 362.5 589.4 364.6" fill="none" stroke="#248f22" stroke-width="8" opacity=".3" filter="url(#e3)"/>
<path d="M589.4 364.6 C589.2 364.9 588.9 365.9 588.0 366.3 C587.1 366.7 585.5 366.9 584.0 367.1 C582.5 367.3 580.8 367.3 579.0 367.3 C577.2 367.3 574.9 367.2 573.5 367.0 C572.1 366.8 571.3 366.4 570.6 366.0 C569.9 365.6 569.5 364.7 569.3 364.4" fill="none" stroke="#176a17" stroke-width="3.6" opacity=".9" filter="url(#d3)"/>
<path d="M569.3 364.4 C568.7 363.2 567.1 360.4 565.6 357.0 C564.1 353.6 562.2 348.7 560.3 344.3 C558.4 339.9 556.1 334.9 554.0 330.7 C551.9 326.5 549.8 322.5 547.8 319.4 C545.8 316.3 543.6 313.7 542.2 312.0 C540.8 310.3 539.8 310.0 539.2 309.3 C538.6 308.6 538.5 308.1 538.4 307.8" fill="none" stroke="#228a20" stroke-width="5" opacity=".55" filter="url(#b3)"/>
<path d="M561.4 297.4 C562.3 298.6 564.9 301.9 566.6 304.4 C568.3 306.9 570.3 309.6 571.8 312.3 C573.3 315.0 574.5 318.1 575.7 320.6 C576.9 323.1 578.6 326.4 579.2 327.5" fill="none" stroke="#2a962a" stroke-width="4" opacity=".45" filter="url(#b3)"/>
<ellipse cx="580.5" cy="349" rx="4.5" ry="13" fill="#63d45a" opacity=".75" filter="url(#e3)"/>
<path d="M548.5 305 C555 313 562 326 568.5 340 C572.5 349 576 356 579.5 362" fill="none" stroke="#7fe574" stroke-width="5" opacity=".75" filter="url(#b3)"/>
<path d="M583 329 C595 313 611 293 631 273.5 C646 260 660 250 672 242" fill="none" stroke="#6fe866" stroke-width="3.6" opacity=".85" filter="url(#b3)"/>
<path d="M538.4 307.8 C538.7 307.3 539.1 305.8 540.0 304.8 C540.9 303.8 542.0 303.0 543.6 301.9 C545.2 300.8 547.7 299.0 549.8 297.9 C551.9 296.8 554.4 295.8 556.0 295.4 C557.6 295.0 558.5 295.4 559.4 295.7 C560.3 296.0 561.1 297.1 561.4 297.4" fill="none" stroke="#8fea82" stroke-width="3" opacity=".7" filter="url(#d3)"/>
</g>
</g>
</svg>
<svg class="chk" style="left:1184.3px;top:523.7px" width="170" height="150" viewBox="520 230 170 150">
<defs>
<radialGradient id="sh4" cx="0.5" cy="0.5" r="0.5"><stop offset="0" stop-color="#000" stop-opacity=".22"/><stop offset=".3" stop-color="#000" stop-opacity=".08"/><stop offset=".7" stop-color="#000" stop-opacity=".03"/><stop offset="1" stop-color="#000" stop-opacity="0"/></radialGradient>
<linearGradient id="g4" x1="540" y1="300" x2="640" y2="330" gradientUnits="userSpaceOnUse"><stop offset="0" stop-color="#3fb838"/><stop offset=".25" stop-color="#48c340"/><stop offset=".6" stop-color="#47c23f"/><stop offset="1" stop-color="#41bb3a"/></linearGradient>
<filter id="b4" x="-30%" y="-30%" width="160%" height="160%"><feGaussianBlur stdDeviation="1.5"/></filter>
<filter id="d4" x="-30%" y="-30%" width="160%" height="160%"><feGaussianBlur stdDeviation="0.8"/></filter>
<filter id="e4" x="-30%" y="-30%" width="160%" height="160%"><feGaussianBlur stdDeviation="2.4"/></filter>
<filter id="c4" x="-10%" y="-10%" width="120%" height="120%"><feGaussianBlur stdDeviation="0.45"/></filter>
<clipPath id="k4"><path d="M538.4 307.8 C538.7 307.3 539.1 305.8 540.0 304.8 C540.9 303.8 542.0 303.0 543.6 301.9 C545.2 300.8 547.7 299.0 549.8 297.9 C551.9 296.8 554.4 295.8 556.0 295.4 C557.6 295.0 558.5 295.4 559.4 295.7 C560.3 296.0 561.1 297.1 561.4 297.4 C562.3 298.6 564.9 301.9 566.6 304.4 C568.3 306.9 570.3 309.6 571.8 312.3 C573.3 315.0 574.5 318.1 575.7 320.6 C576.9 323.1 578.6 326.4 579.2 327.5 C581.0 325.0 586.0 317.8 590.0 312.6 C594.0 307.4 598.7 301.5 603.0 296.4 C607.3 291.3 611.7 286.6 616.0 282.1 C620.3 277.7 624.6 273.6 629.0 269.7 C633.4 265.8 637.8 262.0 642.1 258.6 C646.5 255.2 650.8 252.3 655.1 249.5 C659.4 246.7 665.2 243.4 668.1 241.7 C671.0 240.0 671.7 239.9 672.4 239.5 C672.6 239.5 673.8 239.3 673.9 239.6 C674.0 239.9 673.4 240.8 673.3 241.1 C672.4 242.1 671.1 243.8 668.1 246.9 C665.1 250.0 659.4 255.3 655.1 259.9 C650.8 264.4 646.5 269.2 642.1 274.2 C637.8 279.2 633.4 284.2 629.0 289.9 C624.6 295.5 619.6 302.2 616.0 308.1 C612.4 314.0 610.0 320.4 607.5 325.5 C605.0 330.6 603.3 334.1 601.2 338.5 C599.1 342.9 597.0 347.6 595.0 352.0 C593.0 356.4 590.3 362.5 589.4 364.6 C589.2 364.9 588.9 365.9 588.0 366.3 C587.1 366.7 585.5 366.9 584.0 367.1 C582.5 367.3 580.8 367.3 579.0 367.3 C577.2 367.3 574.9 367.2 573.5 367.0 C572.1 366.8 571.3 366.4 570.6 366.0 C569.9 365.6 569.5 364.7 569.3 364.4 C568.7 363.2 567.1 360.4 565.6 357.0 C564.1 353.6 562.2 348.7 560.3 344.3 C558.4 339.9 556.1 334.9 554.0 330.7 C551.9 326.5 549.8 322.5 547.8 319.4 C545.8 316.3 543.6 313.7 542.2 312.0 C540.8 310.3 539.8 310.0 539.2 309.3 C538.6 308.6 538.5 308.1 538.4 307.8 Z"/></clipPath>
</defs>
<ellipse cx="581" cy="368.6" rx="61" ry="5.6" fill="url(#sh4)"/>
<g filter="url(#c4)">
<path d="M538.4 307.8 C538.7 307.3 539.1 305.8 540.0 304.8 C540.9 303.8 542.0 303.0 543.6 301.9 C545.2 300.8 547.7 299.0 549.8 297.9 C551.9 296.8 554.4 295.8 556.0 295.4 C557.6 295.0 558.5 295.4 559.4 295.7 C560.3 296.0 561.1 297.1 561.4 297.4 C562.3 298.6 564.9 301.9 566.6 304.4 C568.3 306.9 570.3 309.6 571.8 312.3 C573.3 315.0 574.5 318.1 575.7 320.6 C576.9 323.1 578.6 326.4 579.2 327.5 C581.0 325.0 586.0 317.8 590.0 312.6 C594.0 307.4 598.7 301.5 603.0 296.4 C607.3 291.3 611.7 286.6 616.0 282.1 C620.3 277.7 624.6 273.6 629.0 269.7 C633.4 265.8 637.8 262.0 642.1 258.6 C646.5 255.2 650.8 252.3 655.1 249.5 C659.4 246.7 665.2 243.4 668.1 241.7 C671.0 240.0 671.7 239.9 672.4 239.5 C672.6 239.5 673.8 239.3 673.9 239.6 C674.0 239.9 673.4 240.8 673.3 241.1 C672.4 242.1 671.1 243.8 668.1 246.9 C665.1 250.0 659.4 255.3 655.1 259.9 C650.8 264.4 646.5 269.2 642.1 274.2 C637.8 279.2 633.4 284.2 629.0 289.9 C624.6 295.5 619.6 302.2 616.0 308.1 C612.4 314.0 610.0 320.4 607.5 325.5 C605.0 330.6 603.3 334.1 601.2 338.5 C599.1 342.9 597.0 347.6 595.0 352.0 C593.0 356.4 590.3 362.5 589.4 364.6 C589.2 364.9 588.9 365.9 588.0 366.3 C587.1 366.7 585.5 366.9 584.0 367.1 C582.5 367.3 580.8 367.3 579.0 367.3 C577.2 367.3 574.9 367.2 573.5 367.0 C572.1 366.8 571.3 366.4 570.6 366.0 C569.9 365.6 569.5 364.7 569.3 364.4 C568.7 363.2 567.1 360.4 565.6 357.0 C564.1 353.6 562.2 348.7 560.3 344.3 C558.4 339.9 556.1 334.9 554.0 330.7 C551.9 326.5 549.8 322.5 547.8 319.4 C545.8 316.3 543.6 313.7 542.2 312.0 C540.8 310.3 539.8 310.0 539.2 309.3 C538.6 308.6 538.5 308.1 538.4 307.8 Z" fill="url(#g4)"/>
<g clip-path="url(#k4)">
<path d="M538.4 307.8 C538.7 307.3 539.1 305.8 540.0 304.8 C540.9 303.8 542.0 303.0 543.6 301.9 C545.2 300.8 547.7 299.0 549.8 297.9 C551.9 296.8 554.4 295.8 556.0 295.4 C557.6 295.0 558.5 295.4 559.4 295.7 C560.3 296.0 561.1 297.1 561.4 297.4 C562.3 298.6 564.9 301.9 566.6 304.4 C568.3 306.9 570.3 309.6 571.8 312.3 C573.3 315.0 574.5 318.1 575.7 320.6 C576.9 323.1 578.6 326.4 579.2 327.5 C581.0 325.0 586.0 317.8 590.0 312.6 C594.0 307.4 598.7 301.5 603.0 296.4 C607.3 291.3 611.7 286.6 616.0 282.1 C620.3 277.7 624.6 273.6 629.0 269.7 C633.4 265.8 637.8 262.0 642.1 258.6 C646.5 255.2 650.8 252.3 655.1 249.5 C659.4 246.7 665.2 243.4 668.1 241.7 C671.0 240.0 671.7 239.9 672.4 239.5 C672.6 239.5 673.8 239.3 673.9 239.6 C674.0 239.9 673.4 240.8 673.3 241.1 C672.4 242.1 671.1 243.8 668.1 246.9 C665.1 250.0 659.4 255.3 655.1 259.9 C650.8 264.4 646.5 269.2 642.1 274.2 C637.8 279.2 633.4 284.2 629.0 289.9 C624.6 295.5 619.6 302.2 616.0 308.1 C612.4 314.0 610.0 320.4 607.5 325.5 C605.0 330.6 603.3 334.1 601.2 338.5 C599.1 342.9 597.0 347.6 595.0 352.0 C593.0 356.4 590.3 362.5 589.4 364.6 C589.2 364.9 588.9 365.9 588.0 366.3 C587.1 366.7 585.5 366.9 584.0 367.1 C582.5 367.3 580.8 367.3 579.0 367.3 C577.2 367.3 574.9 367.2 573.5 367.0 C572.1 366.8 571.3 366.4 570.6 366.0 C569.9 365.6 569.5 364.7 569.3 364.4 C568.7 363.2 567.1 360.4 565.6 357.0 C564.1 353.6 562.2 348.7 560.3 344.3 C558.4 339.9 556.1 334.9 554.0 330.7 C551.9 326.5 549.8 322.5 547.8 319.4 C545.8 316.3 543.6 313.7 542.2 312.0 C540.8 310.3 539.8 310.0 539.2 309.3 C538.6 308.6 538.5 308.1 538.4 307.8 Z" fill="none" stroke="#1f7d1f" stroke-width="2.6" opacity=".6" filter="url(#d4)"/>
<path d="M673.3 241.1 C672.4 242.1 671.1 243.8 668.1 246.9 C665.1 250.0 659.4 255.3 655.1 259.9 C650.8 264.4 646.5 269.2 642.1 274.2 C637.8 279.2 633.4 284.2 629.0 289.9 C624.6 295.5 619.6 302.2 616.0 308.1 C612.4 314.0 610.0 320.4 607.5 325.5 C605.0 330.6 603.3 334.1 601.2 338.5 C599.1 342.9 597.0 347.6 595.0 352.0 C593.0 356.4 590.3 362.5 589.4 364.6" fill="none" stroke="#1c7a1c" stroke-width="3.4" opacity=".8" filter="url(#d4)"/>
<path d="M673.3 241.1 C672.4 242.1 671.1 243.8 668.1 246.9 C665.1 250.0 659.4 255.3 655.1 259.9 C650.8 264.4 646.5 269.2 642.1 274.2 C637.8 279.2 633.4 284.2 629.0 289.9 C624.6 295.5 619.6 302.2 616.0 308.1 C612.4 314.0 610.0 320.4 607.5 325.5 C605.0 330.6 603.3 334.1 601.2 338.5 C599.1 342.9 597.0 347.6 595.0 352.0 C593.0 356.4 590.3 362.5 589.4 364.6" fill="none" stroke="#248f22" stroke-width="8" opacity=".3" filter="url(#e4)"/>
<path d="M589.4 364.6 C589.2 364.9 588.9 365.9 588.0 366.3 C587.1 366.7 585.5 366.9 584.0 367.1 C582.5 367.3 580.8 367.3 579.0 367.3 C577.2 367.3 574.9 367.2 573.5 367.0 C572.1 366.8 571.3 366.4 570.6 366.0 C569.9 365.6 569.5 364.7 569.3 364.4" fill="none" stroke="#176a17" stroke-width="3.6" opacity=".9" filter="url(#d4)"/>
<path d="M569.3 364.4 C568.7 363.2 567.1 360.4 565.6 357.0 C564.1 353.6 562.2 348.7 560.3 344.3 C558.4 339.9 556.1 334.9 554.0 330.7 C551.9 326.5 549.8 322.5 547.8 319.4 C545.8 316.3 543.6 313.7 542.2 312.0 C540.8 310.3 539.8 310.0 539.2 309.3 C538.6 308.6 538.5 308.1 538.4 307.8" fill="none" stroke="#228a20" stroke-width="5" opacity=".55" filter="url(#b4)"/>
<path d="M561.4 297.4 C562.3 298.6 564.9 301.9 566.6 304.4 C568.3 306.9 570.3 309.6 571.8 312.3 C573.3 315.0 574.5 318.1 575.7 320.6 C576.9 323.1 578.6 326.4 579.2 327.5" fill="none" stroke="#2a962a" stroke-width="4" opacity=".45" filter="url(#b4)"/>
<ellipse cx="580.5" cy="349" rx="4.5" ry="13" fill="#63d45a" opacity=".75" filter="url(#e4)"/>
<path d="M548.5 305 C555 313 562 326 568.5 340 C572.5 349 576 356 579.5 362" fill="none" stroke="#7fe574" stroke-width="5" opacity=".75" filter="url(#b4)"/>
<path d="M583 329 C595 313 611 293 631 273.5 C646 260 660 250 672 242" fill="none" stroke="#6fe866" stroke-width="3.6" opacity=".85" filter="url(#b4)"/>
<path d="M538.4 307.8 C538.7 307.3 539.1 305.8 540.0 304.8 C540.9 303.8 542.0 303.0 543.6 301.9 C545.2 300.8 547.7 299.0 549.8 297.9 C551.9 296.8 554.4 295.8 556.0 295.4 C557.6 295.0 558.5 295.4 559.4 295.7 C560.3 296.0 561.1 297.1 561.4 297.4" fill="none" stroke="#8fea82" stroke-width="3" opacity=".7" filter="url(#d4)"/>
</g>
</g>
</svg>
</body>
</html>
